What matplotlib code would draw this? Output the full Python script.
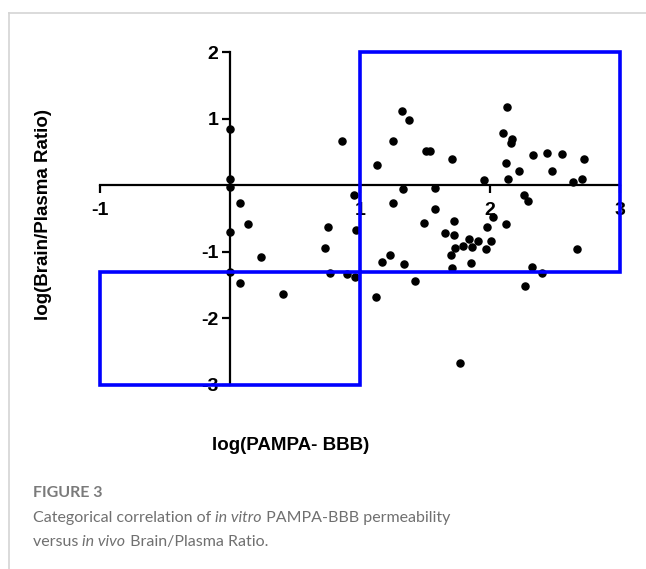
import matplotlib
matplotlib.use("Agg")
import matplotlib.pyplot as plt
from matplotlib.patches import Rectangle
from matplotlib.lines import Line2D

plt.rcParams['axes.unicode_minus'] = False

# log(PAMPA-BBB) vs log(Brain/Plasma Ratio)
pampa = [0, 0, 0, 0.86, 0.95, 0.08, 0.14, 0, 0.24, 0, 0.08, 0.41, 0.75, 0.73,
         0.77, 0.90, 0.96, 0.97, 1.32, 1.38, 1.25, 1.13, 1.51, 1.54, 1.71, 1.33,
         1.58, 1.25, 1.58, 1.95, 2.13, 2.10, 2.17, 2.16, 2.12, 2.14, 2.22, 2.33,
         2.44, 2.55, 2.48, 2.72, 2.71, 2.64, 2.26, 2.29, 1.49, 1.72, 1.65, 1.72,
         1.84, 1.91, 1.79, 1.86, 1.73, 2.01, 1.97, 1.98, 2.02, 2.12, 1.70, 1.71,
         1.85, 1.23, 1.17, 1.34, 1.42, 1.12, 1.77, 2.32, 2.40, 2.27, 2.67]
brain_plasma = [0.85, 0.09, -0.02, 0.67, -0.14, -0.27, -0.58, -0.70, -1.07, -1.30,
                -1.47, -1.63, -0.63, -0.94, -1.31, -1.33, -1.38, -0.67, 1.12, 0.99,
                0.66, 0.30, 0.51, 0.51, 0.40, -0.05, -0.04, -0.26, -0.35, 0.08,
                1.18, 0.79, 0.70, 0.63, 0.33, 0.10, 0.21, 0.45, 0.49, 0.47, 0.22,
                0.39, 0.09, 0.05, -0.15, -0.23, -0.57, -0.53, -0.72, -0.74, -0.81,
                -0.84, -0.91, -0.93, -0.94, -0.84, -0.95, -0.63, -0.47, -0.58,
                -1.05, -1.24, -1.17, -1.05, -1.15, -1.18, -1.44, -1.68, -2.67,
                -1.23, -1.31, -1.51, -0.96]

x_ticks = [-1, 1, 2, 3]
y_ticks = [-3, -2, -1, 1, 2]

# category boxes: (x0, y0, x1, y1)
box_high = (1, -1.3, 3, 2)
box_low = (-1, -3, 1, -1.3)

W, H = 646, 569
fig = plt.figure(figsize=(W / 100, H / 100), dpi=100)


def fx(px):
    return px / W


def fy(py):
    return 1 - py / H


# page frame lines
fig.add_artist(Line2D([fx(9), 1], [fy(12.5), fy(12.5)], color='#d4d4d4', lw=1.2))
fig.add_artist(Line2D([fx(9), fx(9)], [fy(12.5), 0], color='#d4d4d4', lw=1.2))

ax = fig.add_axes([fx(100), fy(385), 520 / W, 332.7 / H])
ax.set_xlim(-1, 3)
ax.set_ylim(-3, 2)

ax.scatter(pampa, brain_plasma, s=26, color='black', zorder=3, clip_on=False)

for x0, y0, x1, y1 in (box_high, box_low):
    ax.add_patch(Rectangle((x0, y0), x1 - x0, y1 - y0, fill=False,
                           edgecolor='#0000ff', lw=2.6, zorder=5, clip_on=False))

for s in ('top', 'right'):
    ax.spines[s].set_visible(False)
ax.spines['left'].set_position(('data', 0))
ax.spines['bottom'].set_position(('data', 0))
for s in ('left', 'bottom'):
    ax.spines[s].set_linewidth(1.6)

ax.set_xticks(x_ticks)
ax.set_yticks(y_ticks)
ax.set_xticklabels([str(v) for v in x_ticks])
ax.set_yticklabels([str(v) for v in y_ticks])
ax.tick_params(axis='both', direction='out', length=6, width=1.6,
               labelsize=14)
ax.tick_params(axis='x', pad=6)
ax.tick_params(axis='y', pad=2.5)
for lab in ax.get_xticklabels() + ax.get_yticklabels():
    lab.set_fontfamily('Liberation Sans')
    lab.set_fontweight('bold')

fig.text(fx(291), fy(446), 'log(PAMPA- BBB)', ha='center', va='center',
         family='Liberation Sans', weight='bold', fontsize=13.5)
fig.text(fx(44), fy(214), 'log(Brain/Plasma Ratio)', ha='center', va='center',
         rotation=90, family='Liberation Sans', weight='bold', fontsize=13.5)

# caption
fig.text(fx(33), fy(493), 'FIGURE 3', ha='left', va='center',
         family='Lato', weight='bold', fontsize=11.5, color='#7a7a7a')

cap_lines = [
    [('Categorical correlation of ', 'normal'), ('in vitro', 'italic'),
     (' PAMPA-BBB permeability', 'normal')],
    [('versus ', 'normal'), ('in vivo', 'italic'),
     (' Brain/Plasma Ratio.', 'normal')],
]
renderer = fig.canvas.get_renderer()
for i, parts in enumerate(cap_lines):
    x = fx(33)
    for txt, style in parts:
        t = fig.text(x, fy(518 + i * 24), txt, ha='left', va='center',
                     family='Lato', style=style, fontsize=11.5, color='#707070')
        bb = t.get_window_extent(renderer)
        x += bb.width / W

fig.savefig('out.png', dpi=100)
